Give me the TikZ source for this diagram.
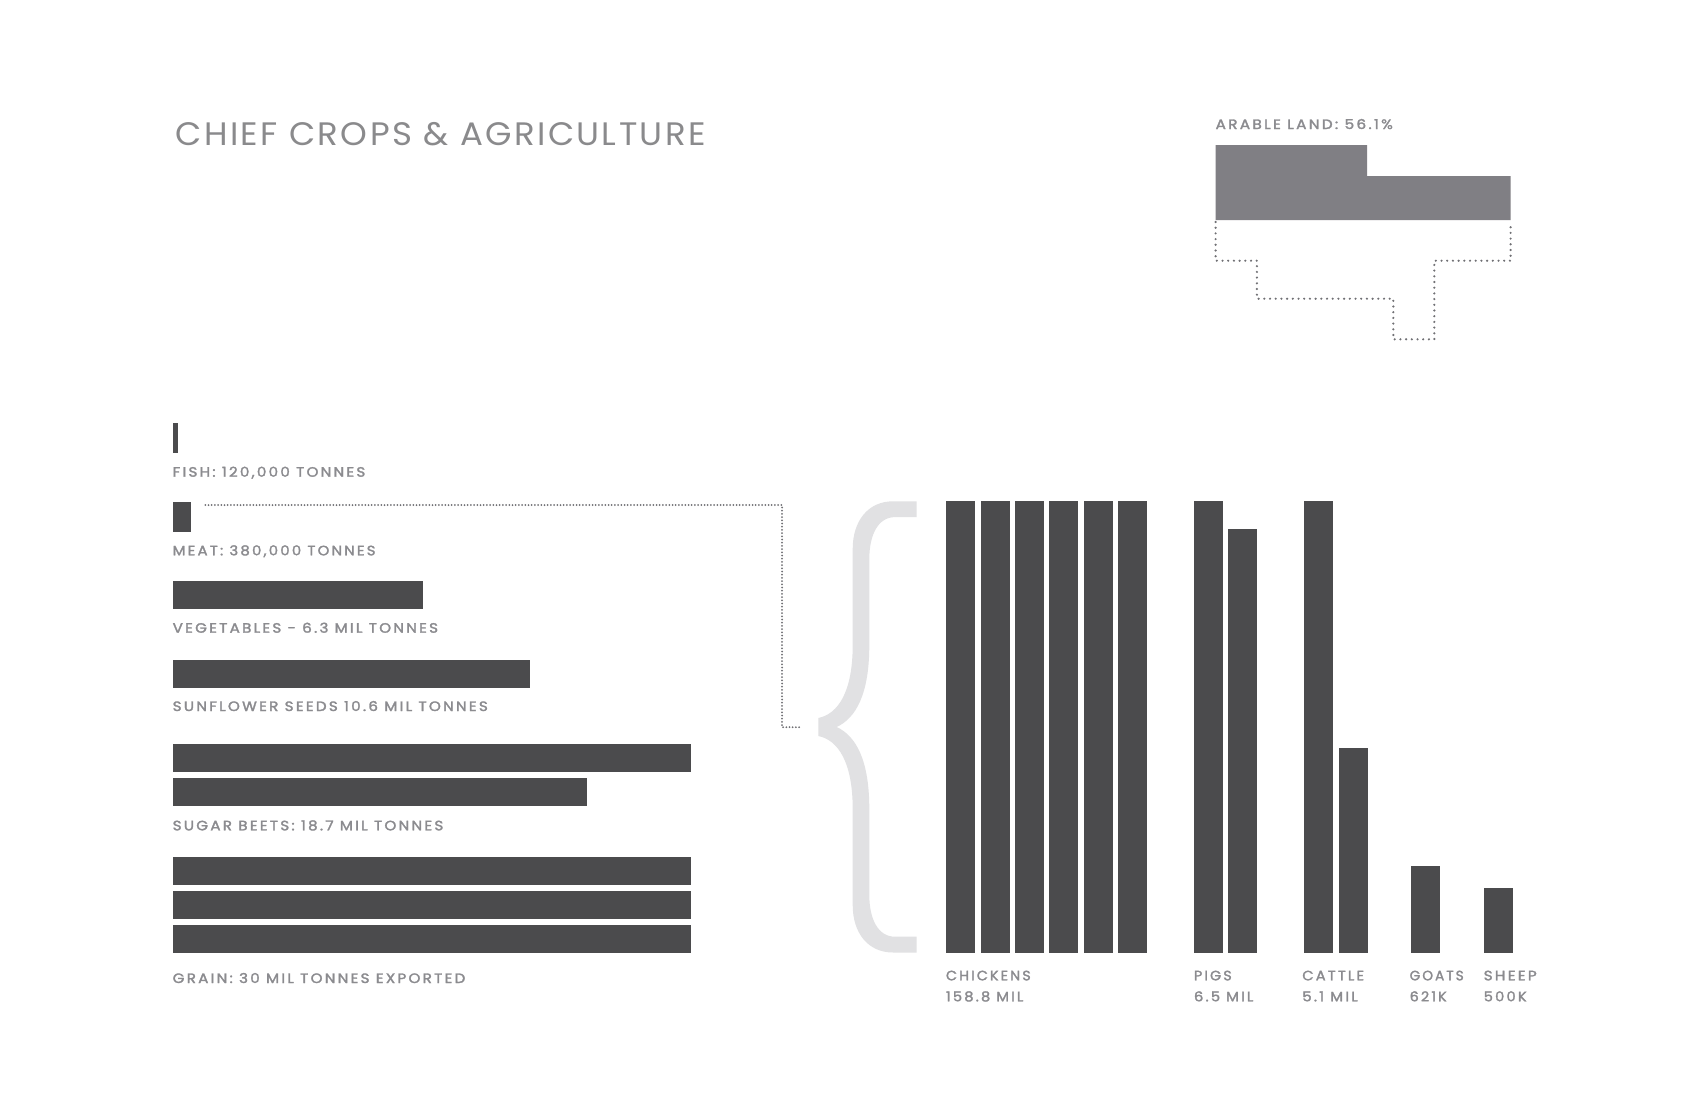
\documentclass[tikz,border=0pt]{standalone}
\usepackage{graphicx}
\usepackage{fontspec}
\setmainfont{Poppins}
\newfontfamily\labfont{Poppins}[LetterSpace=15,FakeBold=2]
\newfontfamily\titfont{Poppins}[LetterSpace=7]
\definecolor{bardark}{HTML}{4B4B4D}
\definecolor{arablegray}{HTML}{807F84}
\definecolor{dotgray}{HTML}{707074}
\definecolor{labgray}{HTML}{8B8B8F}
\definecolor{titgray}{HTML}{8A8A8C}
\definecolor{bracegray}{HTML}{E1E1E3}
\newcommand{\fitw}[2]{\resizebox{#1pt}{\height}{#2}}
\begin{document}
\begin{tikzpicture}[x=1pt,y=-1pt,
  barbox/.style={fill=bardark, draw=none, inner sep=0pt, outer sep=0pt, anchor=north west},
  lab/.style={inner sep=0pt, outer sep=0pt, anchor=base west, text=labgray, font=\labfont\fontsize{13.6}{16}\selectfont},
  titlab/.style={inner sep=0pt, outer sep=0pt, anchor=base west, text=titgray, font=\titfont\fontsize{32.5}{38}\selectfont},
  conn/.style={draw=dotgray, line width=2pt, line cap=round, dash pattern=on 0pt off 3.2pt},
  landdots/.style={draw=dotgray, line width=2.4pt, line cap=round, dash pattern=on 0pt off 5.7pt}]
\fill[white] (0,0) rectangle (1700,1100);
\useasboundingbox (0,0) rectangle (1700,1100);

% title
\node[titlab] (title) at (175.6,145) {\fitw{530}{CHIEF CROPS \& AGRICULTURE}};

% arable land
\node[lab] (arablelab) at (1215.6,129) {\fitw{177.2}{ARABLE LAND: 56.1\%}};
\fill[arablegray] (1215.6,145) -- (1367.1,145) -- (1367.1,176) -- (1510.6,176) -- (1510.6,220) -- (1215.6,220) -- cycle;
\draw[landdots] (1215.6,222) -- (1215.6,260.7) -- (1256.9,260.7) -- (1256.9,298.7) -- (1393.3,298.7) -- (1393.3,339.3) -- (1434.3,339.3) -- (1434.3,260.7) -- (1510.6,260.7) -- (1510.6,222);

% horizontal bars
\node[barbox, minimum width=5.3pt, minimum height=29.4pt] (fish) at (172.7,423.3) {};
\node[lab] (fishlab) at (172.7,476.7) {\fitw{192.6}{FISH: 120,000 TONNES}};
\node[barbox, minimum width=18.3pt, minimum height=29.4pt] (meat) at (172.7,502.3) {};
\node[lab] (meatlab) at (172.7,555.3) {\fitw{202.8}{MEAT: 380,000 TONNES}};
\node[barbox, minimum width=250.2pt, minimum height=28.6pt] (veg) at (172.7,580.7) {};
\node[lab] (veglab) at (172.7,632.7) {\fitw{265.3}{VEGETABLES - 6.3 MIL TONNES}};
\node[barbox, minimum width=357.1pt, minimum height=28.3pt] (sun) at (172.7,660) {};
\node[lab] (sunlab) at (172.7,711) {\fitw{315.1}{SUNFLOWER SEEDS 10.6 MIL TONNES}};
\node[barbox, minimum width=518.3pt, minimum height=28.3pt] (sugA) at (172.7,743.7) {};
\node[barbox, minimum width=414.6pt, minimum height=28.3pt] (sugB) at (172.7,777.7) {};
\node[lab] (suglab) at (172.7,830.3) {\fitw{270.6}{SUGAR BEETS: 18.7 MIL TONNES}};
\node[barbox, minimum width=518.3pt, minimum height=28.6pt] (grA) at (172.7,856.7) {};
\node[barbox, minimum width=518.3pt, minimum height=28.3pt] (grB) at (172.7,890.7) {};
\node[barbox, minimum width=518.3pt, minimum height=28.3pt] (grC) at (172.7,924.7) {};
\node[lab] (grlab) at (172.7,983) {\fitw{292.6}{GRAIN: 30 MIL TONNES EXPORTED}};

% brace
\fill[bracegray] (916.7,501.3) -- (893,501.3)
  .. controls (868,501.3) and (852.7,521) .. (852.7,549)
  -- (852.7,645)
  .. controls (852.7,692) and (838,714) .. (818.3,718)
  -- (818.3,736)
  .. controls (838,740) and (852.7,762) .. (852.7,809)
  -- (852.7,905)
  .. controls (852.7,933) and (868,952.5) .. (893,952.5)
  -- (916.7,952.5) -- (916.7,936.7) -- (895,936.7)
  .. controls (878,936.7) and (869.3,919) .. (869.3,895)
  -- (869.3,809)
  .. controls (869.3,760) and (856,736) .. (836.7,727)
  .. controls (856,718) and (869.3,694) .. (869.3,645)
  -- (869.3,559)
  .. controls (869.3,535) and (878,517.1) .. (895,517.1)
  -- (916.7,517.1) -- cycle;

% connector
\coordinate (mstart) at ([xshift=14.3pt,yshift=-2.7pt]meat.north east);
\coordinate (bend) at (782,727.2);
\coordinate (bracetip) at (801.7,727.2);
\draw[conn] (mstart) -| (bend) -- (bracetip);

% vertical bars
\node[barbox, minimum width=29pt, minimum height=451.2pt] (chA) at (946,501.3) {};
\node[barbox, minimum width=29pt, minimum height=451.2pt] (chB) at (980.7,501.3) {};
\node[barbox, minimum width=29pt, minimum height=451.2pt] (chC) at (1015,501.3) {};
\node[barbox, minimum width=29pt, minimum height=451.2pt] (chD) at (1049.3,501.3) {};
\node[barbox, minimum width=29pt, minimum height=451.2pt] (chE) at (1083.7,501.3) {};
\node[barbox, minimum width=29pt, minimum height=451.2pt] (chF) at (1118,501.3) {};
\node[barbox, minimum width=29pt, minimum height=451.2pt] (pgA) at (1194,501.3) {};
\node[barbox, minimum width=29pt, minimum height=423.6pt] (pgB) at (1228.3,528.9) {};
\node[barbox, minimum width=29pt, minimum height=451.2pt] (ctA) at (1304.3,501.3) {};
\node[barbox, minimum width=29pt, minimum height=204.9pt] (ctB) at (1339,747.6) {};
\node[barbox, minimum width=29pt, minimum height=86.8pt] (goat) at (1411.3,865.7) {};
\node[barbox, minimum width=29pt, minimum height=64.8pt] (sheep) at (1483.7,887.7) {};

% vertical bar labels
\node[lab] (chlab) at (946,980.3) {\fitw{84.7}{CHICKENS}};
\node[lab] (chval) at (946,1001.3) {\fitw{77.3}{158.8 MIL}};
\node[lab] (pglab) at (1194,980.3) {\fitw{37.7}{PIGS}};
\node[lab] (pgval) at (1194,1001.3) {\fitw{59.3}{6.5 MIL}};
\node[lab] (ctlab) at (1302.3,980.3) {\fitw{61.7}{CATTLE}};
\node[lab] (ctval) at (1302.3,1001.3) {\fitw{55.4}{5.1 MIL}};
\node[lab] (gtlab) at (1409.7,980.3) {\fitw{54}{GOATS}};
\node[lab] (gtval) at (1409.7,1001.3) {\fitw{37}{621K}};
\node[lab] (shlab) at (1483.7,980.3) {\fitw{53}{SHEEP}};
\node[lab] (shval) at (1483.7,1001.3) {\fitw{43}{500K}};
\end{tikzpicture}
\end{document}
